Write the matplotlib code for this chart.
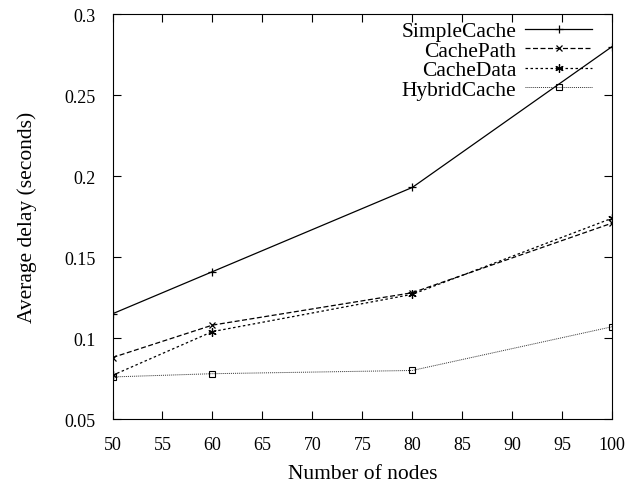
import matplotlib
matplotlib.use("Agg")
import matplotlib.pyplot as plt

nodes = [50, 60, 80, 100]
simple_cache = [0.115, 0.141, 0.193, 0.280]
cache_path = [0.088, 0.108, 0.128, 0.171]
cache_data = [0.077, 0.104, 0.127, 0.174]
hybrid_cache = [0.076, 0.078, 0.080, 0.107]

plt.rcParams['font.family'] = ['Liberation Serif', 'DejaVu Serif']
plt.rcParams['font.size'] = 13

fig = plt.figure(figsize=(6.43, 4.89), dpi=100)
ax = fig.add_axes([0.175, 0.141, 0.777, 0.828])

ax.plot(nodes, simple_cache, color='black', lw=0.9, ls='-',
        marker='+', ms=6, mew=0.9, label='SimpleCache')
ax.plot(nodes, cache_path, color='black', lw=0.9, ls=(0, (4, 2)),
        marker='x', ms=5, mew=0.9, label='CachePath')
ax.plot(nodes, cache_data, color='black', lw=0.9, ls=(0, (2, 2)),
        marker=(6, 2, 0), ms=6, mew=0.9, label='CacheData')
ax.plot(nodes, hybrid_cache, color='#333333', lw=0.7, ls=(0, (1, 1)),
        marker='s', ms=5, mew=0.8, mfc='none', mec='black',
        label='HybridCache')

ax.set_xlim(50, 100)
ax.set_ylim(0.05, 0.3)
ax.set_xticks(range(50, 101, 5))
ax.set_yticks([0.05, 0.1, 0.15, 0.2, 0.25, 0.3])
ax.set_yticklabels(['0.05', '0.1', '0.15', '0.2', '0.25', '0.3'])
ax.tick_params(direction='in', top=True, right=True, length=6, width=0.8)
ax.tick_params(axis='x', pad=12)
ax.tick_params(axis='y', pad=12)
for s in ax.spines.values():
    s.set_linewidth(0.8)

ax.set_xlabel('Number of nodes', fontsize=15.5)
ax.set_ylabel('Average delay (seconds)', fontsize=15.5)
ax.xaxis.set_label_coords(0.5, -0.11)
ax.yaxis.set_label_coords(-0.151, 0.5)

ax.legend(loc='upper right', bbox_to_anchor=(0.96, 0.983), frameon=False,
          markerfirst=False, fontsize=15.5, handlelength=3.1,
          handletextpad=0.42, labelspacing=-0.02, borderpad=0,
          borderaxespad=0)

fig.savefig('out.png', dpi=100)
